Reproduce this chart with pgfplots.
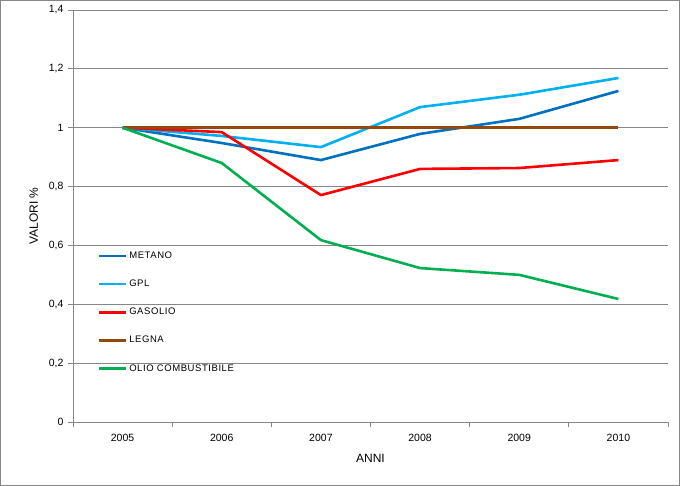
\documentclass[border=0pt]{standalone}
\usepackage{pgfplots}
\pgfplotsset{compat=1.18}
\usepackage{fontspec}
\setmainfont{Liberation Sans}
\newfontfamily\legendfont[LetterSpace=6]{Liberation Sans}

\definecolor{metano}{RGB}{0,112,192}
\definecolor{gpl}{RGB}{0,176,240}
\definecolor{gasolio}{RGB}{255,0,0}
\definecolor{legna}{RGB}{150,72,10}
\definecolor{olio}{RGB}{0,176,80}
\definecolor{griglia}{RGB}{134,134,134}

\begin{document}
\begin{tikzpicture}[x=1pt,y=1pt]
\useasboundingbox (-73,-64) rectangle (607,422);
\draw[griglia, line width=0.8pt] (-72.6,-63.6) rectangle (606.6,421.6);
\begin{axis}[
    at={(0,0)}, anchor=south west,
    scale only axis,
    width=595pt, height=412pt,
    xmin=-0.5, xmax=5.5,
    ymin=0, ymax=1.4,
    axis x line*=bottom,
    axis y line*=left,
    axis line style={griglia, line width=0.8pt},
    xtick={0,1,2,3,4,5},
    xticklabels={2005,2006,2007,2008,2009,2010},
    major x tick style={draw=none},
    minor xtick={-0.5,0.5,1.5,2.5,3.5,4.5,5.5},
    minor tick length=5pt,
    minor tick style={griglia, line width=0.8pt},
    ytick={0,0.2,0.4,0.6,0.8,1,1.2,1.4},
    major tick length=5pt,
    tick align=outside,
    major y tick style={griglia, line width=0.8pt},
    ymajorgrids,
    major grid style={griglia, line width=0.8pt},
    /pgf/number format/use comma,
    /pgf/number format/assume math mode=true,
    tick label style={font=\fontsize{10.5}{12}\selectfont},
    xticklabel style={yshift=-4pt},
    yticklabel style={xshift=-1pt},
    xlabel={ANNI},
    ylabel={VALORI \%},
    label style={font=\fontsize{12}{14}\selectfont},
    xlabel style={yshift=-5pt},
    ylabel style={yshift=4pt},
    legend style={
        draw=none, fill=none,
        at={(0.042,0.423)}, anchor=north west,
        font=\legendfont\fontsize{9.5}{11}\selectfont,
        row sep=16pt,
        legend cell align=left,
        inner xsep=0pt,
        /tikz/every even column/.append style={column sep=0pt},
        nodes={inner xsep=1.5pt},
    },
    legend image code/.code={\draw[#1, line width=2.6pt] (0pt,0pt) -- (27pt,0pt);},
    every axis plot/.append style={line width=2.6pt, line join=round},
]
\addplot[metano] coordinates {(0,1) (1,0.948) (2,0.890) (3,0.979) (4,1.030) (5,1.125)};
\addlegendentry{METANO}
\addplot[gpl] coordinates {(0,1) (1,0.972) (2,0.934) (3,1.070) (4,1.112) (5,1.169)};
\addlegendentry{GPL}
\addplot[gasolio] coordinates {(0,1) (1,0.985) (2,0.771) (3,0.860) (4,0.863) (5,0.890)};
\addlegendentry{GASOLIO}
\addplot[legna] coordinates {(0,1) (1,1) (2,1) (3,1) (4,1) (5,1)};
\addlegendentry{LEGNA}
\addplot[olio] coordinates {(0,1) (1,0.880) (2,0.618) (3,0.523) (4,0.500) (5,0.418)};
\addlegendentry{OLIO COMBUSTIBILE}
\end{axis}
\end{tikzpicture}
\end{document}
